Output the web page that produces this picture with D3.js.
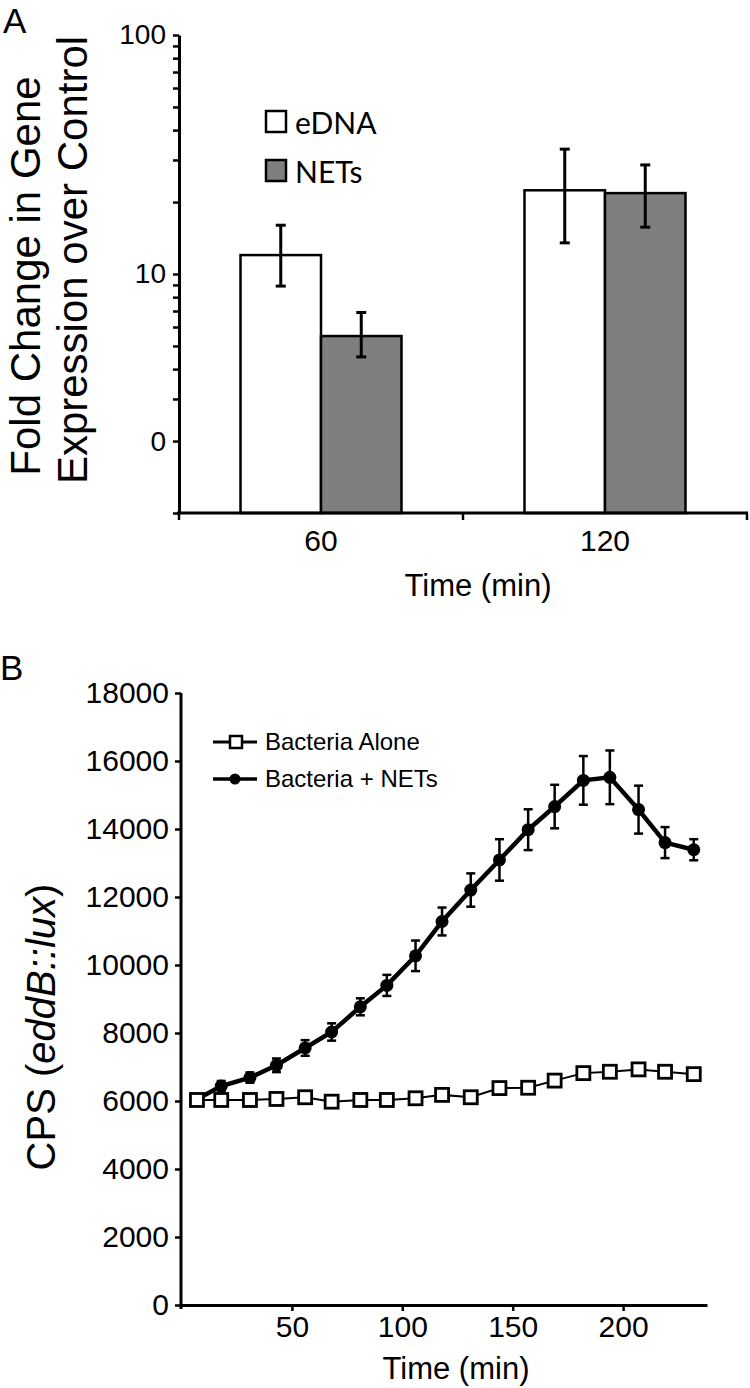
<!DOCTYPE html>
<html>
<head>
<meta charset="utf-8">
<script src="https://cdn.jsdelivr.net/npm/d3@7"></script>
<style>
  body { margin: 0; background: #fff; }
  svg text { font-family: "Liberation Sans", Arial, sans-serif; fill: #000; }
</style>
</head>
<body>
<svg id="chart" width="750" height="1388"></svg>
<script>
// ---- panel A data (log scale, fold change) ----
var timesA = ["60", "120"];
var seriesA = ["eDNA", "NETs"];
var eDNAVal = [12.0, 22.4];
var eDNAHi = [16.0, 33.3];
var eDNALo = [8.9, 13.5];
var netsVal = [5.5, 21.8];
var netsHi = [6.9, 28.6];
var netsLo = [4.5, 15.7];
var yTicksA = [1, 2, 3, 4, 5, 6, 7, 8, 9, 10, 20, 30, 40, 50, 60, 70, 80, 90, 100];
var yLabelTicksA = [100, 10, 2];
var yLabelTextA = ["100", "10", "0"];

// ---- panel B data (CPS over time) ----
var timesB = [7, 18, 31, 43, 56, 68, 81, 93, 106, 118, 131, 144, 157, 169, 182, 194, 207, 219, 232];
var aloneVal = [6030, 6030, 6030, 6060, 6110, 5980, 6030, 6030, 6080, 6180, 6110, 6380, 6390, 6600, 6820, 6860, 6930, 6860, 6790];
var netsCps = [6050, 6440, 6690, 7050, 7560, 8030, 8770, 9400, 10270, 11280, 12205, 13090, 13980, 14660, 15430, 15520, 14570, 13600, 13390];
var netsErr = [60, 150, 150, 200, 230, 255, 250, 310, 450, 410, 490, 610, 600, 640, 715, 790, 705, 456, 310];
var yTicksB = [0, 2000, 4000, 6000, 8000, 10000, 12000, 14000, 16000, 18000];
var xTicksB = [50, 100, 150, 200];

var svg = d3.select("#chart");

// ================= PANEL A =================
var gA = svg.append("g");

var xA = d3.scaleBand().domain(timesA).range([179, 747]);
var xSub = d3.scaleBand().domain(seriesA).range([0, xA.bandwidth()]).paddingOuter(0.764);
var yA = d3.scaleLog().domain([1, 100]).range([513, 35]);

var barsA = [];
timesA.forEach(function(t, i) {
  barsA.push({ t: t, s: "eDNA", v: eDNAVal[i], hi: eDNAHi[i], lo: eDNALo[i] });
  barsA.push({ t: t, s: "NETs", v: netsVal[i], hi: netsHi[i], lo: netsLo[i] });
});
var fillA = { eDNA: "#ffffff", NETs: "#7f7f7f" };

gA.selectAll("rect.bar").data(barsA).enter().append("rect")
  .attr("class", "bar")
  .attr("x", function(d) { return xA(d.t) + xSub(d.s); })
  .attr("y", function(d) { return yA(d.v); })
  .attr("width", xSub.bandwidth())
  .attr("height", function(d) { return yA(1) - yA(d.v); })
  .attr("fill", function(d) { return fillA[d.s]; })
  .attr("stroke", "#000").attr("stroke-width", 2.5);

// error bars
var errA = gA.selectAll("g.err").data(barsA).enter().append("g").attr("class", "err")
  .attr("transform", function(d) { return "translate(" + (xA(d.t) + xSub(d.s) + xSub.bandwidth() / 2) + ",0)"; });
errA.append("line").attr("y1", function(d) { return yA(d.hi); }).attr("y2", function(d) { return yA(d.lo); });
errA.append("line").attr("x1", -5).attr("x2", 5).attr("y1", function(d) { return yA(d.hi); }).attr("y2", function(d) { return yA(d.hi); });
errA.append("line").attr("x1", -5).attr("x2", 5).attr("y1", function(d) { return yA(d.lo); }).attr("y2", function(d) { return yA(d.lo); });
errA.selectAll("line").attr("stroke", "#000").attr("stroke-width", 3);

// y axis (log)
var yAxisA = gA.append("g").attr("transform", "translate(179,0)")
  .call(d3.axisLeft(yA).tickValues(yTicksA).tickSize(6).tickSizeOuter(0).tickPadding(7)
    .tickFormat(function(d) { var k = yLabelTicksA.indexOf(d); return k >= 0 ? yLabelTextA[k] : ""; }));
yAxisA.selectAll("text").style("font-size", "28px");

// x axis: labels at centers, ticks at group edges
var xAxisA = gA.append("g").attr("transform", "translate(0,513)")
  .call(d3.axisBottom(xA).tickSize(0).tickSizeOuter(0).tickPadding(17));
xAxisA.selectAll("text").style("font-size", "30px");
var edgesA = [xA(timesA[0])].concat(timesA.map(function(t) { return xA(t) + xA.bandwidth(); }));
gA.selectAll("line.edge").data(edgesA).enter().append("line")
  .attr("x1", function(d) { return d; }).attr("x2", function(d) { return d; })
  .attr("y1", 513).attr("y2", 520).attr("stroke", "#000").attr("stroke-width", 2.5);

[yAxisA, xAxisA].forEach(function(a) {
  a.select(".domain").attr("stroke-width", 3);
  a.selectAll(".tick line").attr("stroke-width", 2.5);
});
xAxisA.select(".domain").attr("d", "M177,0H748");

gA.append("text").attr("x", 478).attr("y", 596).attr("text-anchor", "middle")
  .style("font-size", "31px").text("Time (min)");
gA.append("text").attr("transform", "translate(40,276) rotate(-90)").attr("text-anchor", "middle")
  .style("font-size", "42px").text("Fold Change in Gene");
gA.append("text").attr("transform", "translate(87,260) rotate(-90)").attr("text-anchor", "middle")
  .style("font-size", "42px").text("Expression over Control");
gA.append("text").attr("x", 3).attr("y", 33).style("font-size", "35px").text("A");

// legend A
var legA = gA.selectAll("g.leg").data(seriesA).enter().append("g").attr("class", "leg")
  .attr("transform", function(d, i) { return "translate(266," + (111 + i * 49) + ")"; });
legA.append("rect").attr("width", 20).attr("height", 21)
  .attr("fill", function(d) { return fillA[d]; }).attr("stroke", "#000").attr("stroke-width", 2.5);
legA.append("text").attr("x", 29).attr("y", 23).style("font-family", "Lato, sans-serif")
  .style("font-size", "30px").text(function(d) { return d; });

// ================= PANEL B =================
var gB = svg.append("g");
var xB = d3.scaleLinear().domain([0, 238]).range([181.5, 707]);
var yB = d3.scaleLinear().domain([0, 18000]).range([1305, 693]);

var yAxisB = gB.append("g").attr("transform", "translate(181,0)")
  .call(d3.axisLeft(yB).tickValues(yTicksB).tickSize(6).tickSizeOuter(0).tickPadding(6).tickFormat(d3.format("d")));
var xAxisB = gB.append("g").attr("transform", "translate(0,1305)")
  .call(d3.axisBottom(xB).tickValues(xTicksB).tickSize(6).tickSizeOuter(0).tickPadding(5));
yAxisB.selectAll("text").style("font-size", "30px");
xAxisB.selectAll("text").style("font-size", "30px");
[yAxisB, xAxisB].forEach(function(a) {
  a.select(".domain").attr("stroke-width", 3);
  a.selectAll(".tick line").attr("stroke-width", 2.5);
});
yAxisB.select(".domain").attr("d", "M0,1309V693");

var ptsAlone = timesB.map(function(t, i) { return { t: t, v: aloneVal[i] }; });
var ptsNets = timesB.map(function(t, i) { return { t: t, v: netsCps[i], e: netsErr[i] }; });
var line = d3.line().x(function(d) { return xB(d.t); }).y(function(d) { return yB(d.v); });

// NETs error bars
var errB = gB.selectAll("g.errb").data(ptsNets).enter().append("g").attr("class", "errb")
  .attr("transform", function(d) { return "translate(" + xB(d.t) + ",0)"; });
errB.append("line").attr("y1", function(d) { return yB(d.v + d.e); }).attr("y2", function(d) { return yB(d.v - d.e); });
errB.append("line").attr("x1", -4.5).attr("x2", 4.5).attr("y1", function(d) { return yB(d.v + d.e); }).attr("y2", function(d) { return yB(d.v + d.e); });
errB.append("line").attr("x1", -4.5).attr("x2", 4.5).attr("y1", function(d) { return yB(d.v - d.e); }).attr("y2", function(d) { return yB(d.v - d.e); });
errB.selectAll("line").attr("stroke", "#000").attr("stroke-width", 2.5);

gB.append("path").datum(ptsNets).attr("d", line).attr("fill", "none").attr("stroke", "#000").attr("stroke-width", 4.5);
gB.selectAll("circle.pt").data(ptsNets).enter().append("circle").attr("class", "pt")
  .attr("cx", function(d) { return xB(d.t); }).attr("cy", function(d) { return yB(d.v); })
  .attr("r", 6.5).attr("fill", "#000");

gB.append("path").datum(ptsAlone).attr("d", line).attr("fill", "none").attr("stroke", "#000").attr("stroke-width", 2);
gB.selectAll("rect.sq").data(ptsAlone).enter().append("rect").attr("class", "sq")
  .attr("x", function(d) { return xB(d.t) - 6.5; }).attr("y", function(d) { return yB(d.v) - 6.5; })
  .attr("width", 13).attr("height", 13).attr("fill", "#fff").attr("stroke", "#000").attr("stroke-width", 2.8);

gB.append("text").attr("x", 456).attr("y", 1379).attr("text-anchor", "middle")
  .style("font-size", "31px").text("Time (min)");
var yLabB = gB.append("text").attr("transform", "translate(55,1027) rotate(-90)").attr("text-anchor", "middle")
  .style("font-size", "40px");
yLabB.append("tspan").text("CPS (");
yLabB.append("tspan").style("font-style", "italic").text("eddB::lux");
yLabB.append("tspan").text(")");
gB.append("text").attr("x", 0).attr("y", 680).style("font-size", "35px").text("B");

// legend B
var legB = gB.append("g");
legB.append("line").attr("x1", 213).attr("x2", 257).attr("y1", 742).attr("y2", 742).attr("stroke", "#000").attr("stroke-width", 3);
legB.append("rect").attr("x", 230).attr("y", 736).attr("width", 12).attr("height", 12)
  .attr("fill", "#fff").attr("stroke", "#000").attr("stroke-width", 2.5);
legB.append("text").attr("x", 265).attr("y", 750).style("font-size", "24px").text("Bacteria Alone");
legB.append("line").attr("x1", 213).attr("x2", 257).attr("y1", 779).attr("y2", 779).attr("stroke", "#000").attr("stroke-width", 3.5);
legB.append("circle").attr("cx", 235).attr("cy", 779).attr("r", 5.5).attr("fill", "#000");
legB.append("text").attr("x", 265).attr("y", 787).style("font-size", "24px").text("Bacteria + NETs");
</script>
</body>
</html>
